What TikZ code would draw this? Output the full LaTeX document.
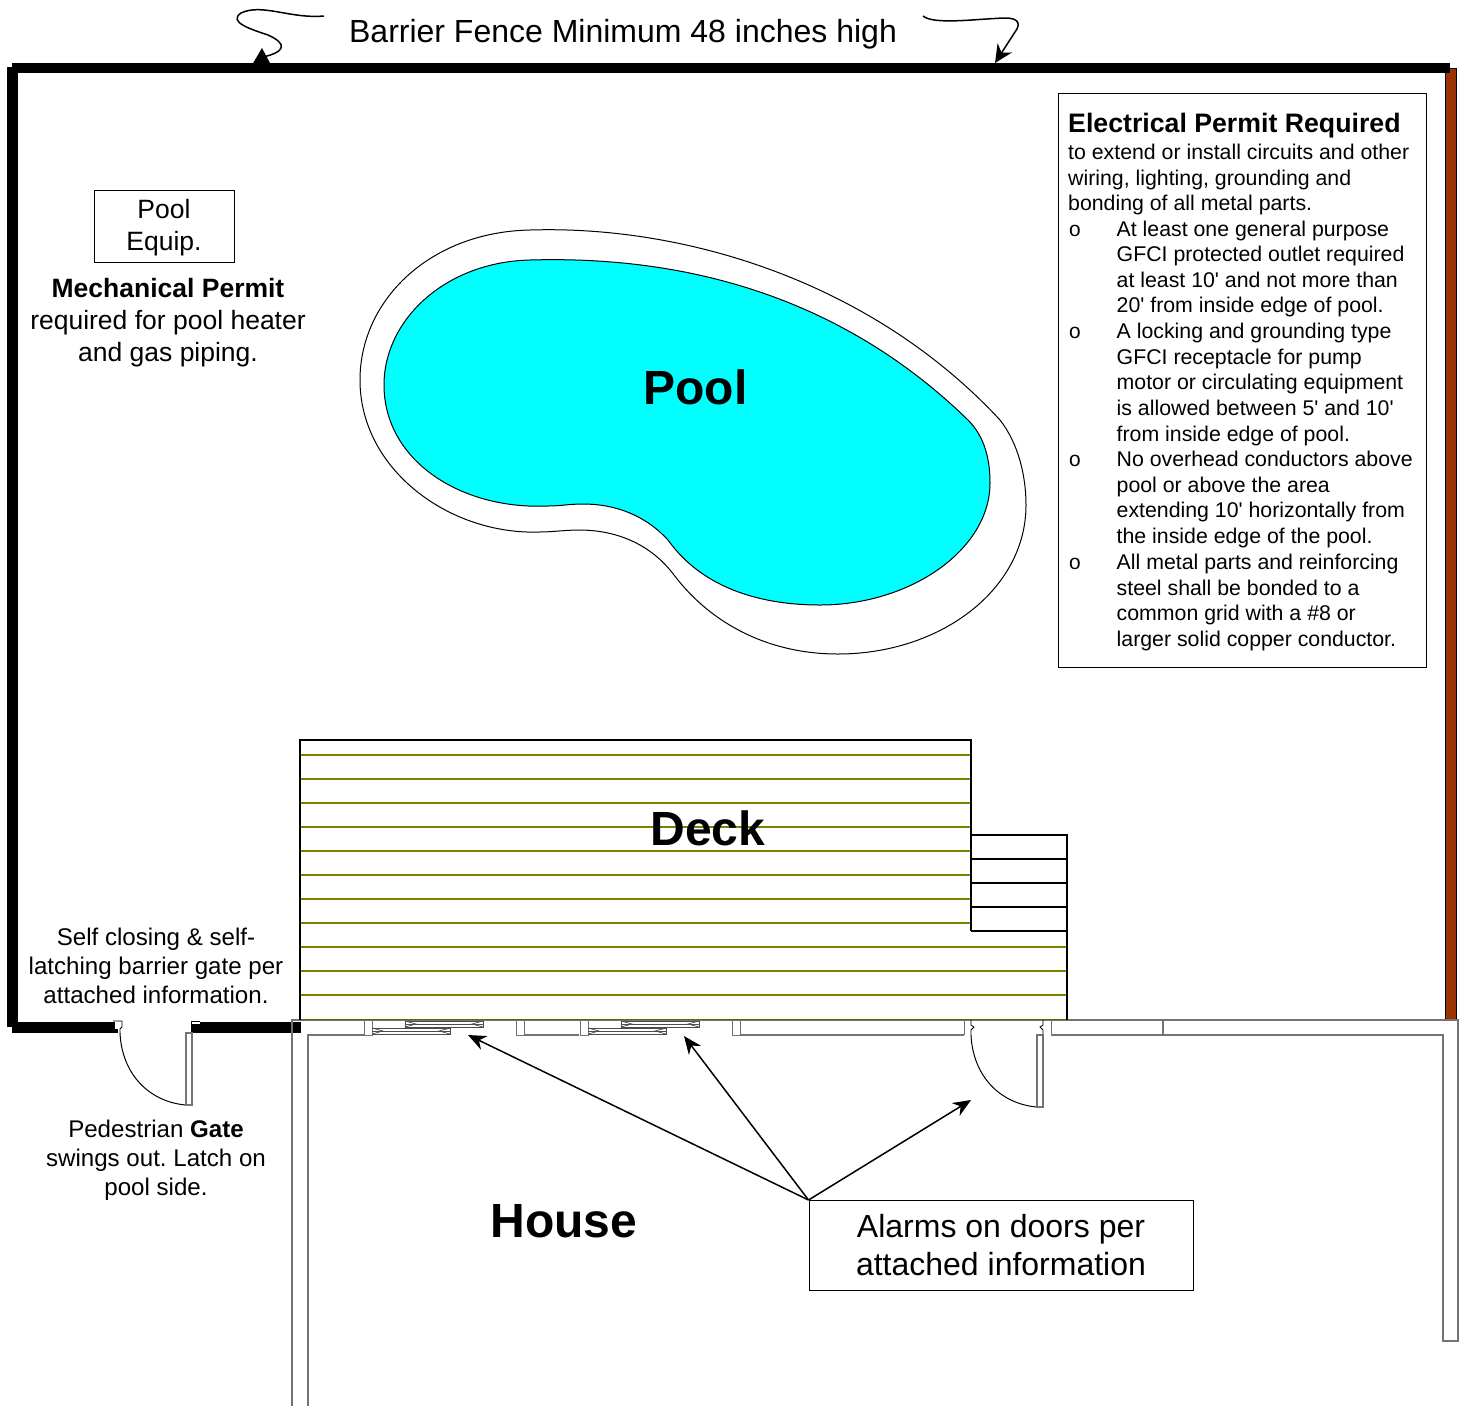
\documentclass[tikz,border=0pt]{standalone}
\usepackage{fontspec}
\setmainfont{Liberation Sans}
\newfontfamily\elecf{Liberation Sans}
\newfontfamily\monof{Liberation Mono}
\usetikzlibrary{arrows.meta}
\newcommand{\fsz}[2]{\fontsize{#1}{#2}\selectfont}
\frenchspacing
\tikzset{
 x=1pt,y=-1pt,
 wall/.style={draw=black!55,line width=1.3},
 fence/.style={fill=black,draw=none},
 note/.style={inner sep=0,align=center},
 bullettext/.style={inner sep=0,anchor=north west,align=left,font=\elecf\fsz{21.3}{25.6}},
 bulletmark/.style={inner sep=0,font=\monof\fsz{21}{22}},
 arrowline/.style={draw=black,line width=1.5,-{Stealth[length=18,width=15]}},
 framebox/.style={draw=black,line width=1,fill=none},
 big/.style={inner sep=0,font=\bfseries\fsz{48}{52}},
}
\definecolor{plankcol}{HTML}{808000}
\definecolor{brownbar}{HTML}{993300}
\definecolor{poolcol}{HTML}{00FFFF}
\begin{document}
\begin{tikzpicture}
\useasboundingbox (0,0) rectangle (1464,1406);
\fill[white] (0,0) rectangle (1464,1406);
% squiggles
\coordinate (sqA) at (324,16);
\coordinate (sqAend) at (263,57);
\draw[black,line width=1.5] (sqA) .. controls (290,19) and (262,3) .. (241,13) .. controls (228,22) and (250,29) .. (268,35) .. controls (288,44) and (285,52) .. (sqAend);
\fill[black] (252,65) -- (262,48) -- (271,65) -- cycle;
\coordinate (sqB) at (923,16);
\coordinate (sqBend) at (995,63);
\draw[arrowline,-{Stealth[length=18,width=17]}] (sqB) .. controls (934,25) and (975,19) .. (1005,18) .. controls (1019,18) and (1021,24) .. (1015,32) -- (sqBend);
% fence
\fill[brownbar] (1445,68) rectangle (1456,1020);
\draw[black,line width=1] (1445,68) -- (1445,1020) (1456,68) -- (1456,1020) (1445,68) -- (1456,68);
\fill[fence] (12,63) rectangle (1450,73);
\fill[fence] (7,67) rectangle (18,1027);
\fill[fence] (12,1022) rectangle (118,1033);
\fill[fence] (191,1022) rectangle (301,1033);
% house walls
\draw[wall] (292,1406) -- (292,1020) -- (1458,1020) -- (1458,1341) -- (1443,1341) -- (1443,1035) -- (1051,1035);
\draw[wall] (964,1035) -- (740,1035);
\draw[wall] (579,1035) -- (524,1035);
\draw[wall] (364,1035) -- (308,1035) -- (308,1406);
\draw[wall] (1163,1020) -- (1163,1035);
% gate
\fill[white] (115,1022) rectangle (122,1029);
\fill[white] (118,1029) rectangle (122,1033);
\fill[white] (191,1021) rectangle (200,1024);
\draw[black,line width=.8] (113,1021) -- (122,1021) -- (122,1027) -- (120,1029) -- (120,1033);
\draw[black,line width=.8] (200,1021) -- (191,1021) -- (191,1033);
\draw[black,line width=1] (120,1033) .. controls (122,1075) and (150,1102) .. (186,1105);
\draw[wall] (186,1033) rectangle (192,1105);
% sliding doors
\foreach \dx in {0,216}{
 \draw[wall,line width=1] (364+\dx,1020) rectangle (372+\dx,1035);
 \draw[black!70,line width=.9] (405+\dx,1021) -- (483+\dx,1021) -- (483+\dx,1027) -- (405+\dx,1027) -- cycle;
 \draw[black!70,line width=.9] (372+\dx,1028) -- (450+\dx,1028) -- (450+\dx,1034) -- (372+\dx,1034);
 \draw[black!70,line width=.7] (405+\dx,1024) -- (483+\dx,1024) (372+\dx,1031) -- (450+\dx,1031);
 \draw[black!70,line width=.7] (405+\dx,1021) -- (416+\dx,1024) -- (405+\dx,1027) (483+\dx,1021) -- (472+\dx,1024) -- (483+\dx,1027);
 \draw[black!70,line width=.7] (372+\dx,1028) -- (383+\dx,1031) -- (372+\dx,1034) (450+\dx,1028) -- (439+\dx,1031) -- (450+\dx,1034);
}
\draw[wall,line width=1] (516,1020) rectangle (524,1035);
\draw[wall,line width=1] (732,1020) rectangle (740,1035);
% back door
\draw[wall,line width=1] (964,1020) -- (964,1035);
\draw[wall,line width=1] (1051,1020) -- (1051,1035);
\draw[black,line width=.8] (971,1020) -- (971,1025) -- (974,1027) -- (971,1030) -- (971,1035);
\draw[black,line width=.8] (1043,1020) -- (1043,1025) -- (1040,1027) -- (1043,1030) -- (1043,1035);
\draw[black,line width=1] (971,1035) .. controls (973,1077) and (1001,1104) .. (1037,1107);
\draw[wall] (1037,1035) rectangle (1043,1107);
% deck
\foreach \yy in {755,779,...,923}{\draw[plankcol,line width=1.3] (300,\yy) -- (971,\yy);}
\foreach \yy in {947,971,995}{\draw[plankcol,line width=1.3] (300,\yy) -- (1067,\yy);}
\draw[plankcol!80!black,line width=1.3] (300,1019.5) -- (1067,1019.5);
\draw[framebox,line width=1.3] (300,1020) -- (300,740) -- (971,740) -- (971,931);
\draw[framebox,line width=1.3] (971,835) -- (1067,835) -- (1067,1020);
\draw[framebox,line width=1.3] (971,859) -- (1067,859) (971,883) -- (1067,883) (971,907) -- (1067,907) (971,931) -- (1067,931);
% pool
\draw[black,line width=1] (530,230) .. controls (690,225) and (875,285) .. (1000,420)
 .. controls (1018,443) and (1026,475) .. (1026,505)
 .. controls (1026,590) and (940,654) .. (838,654)
 .. controls (770,654) and (712,625) .. (674,575)
 .. controls (650,543) and (615,530) .. (579,530)
 .. controls (565,530) and (553,532) .. (539,532)
 .. controls (450,535) and (360,470) .. (360,380)
 .. controls (360,300) and (430,232) .. (530,230) -- cycle;
\draw[black,line width=1,fill=poolcol] (530,260) .. controls (700,255) and (850,305) .. (968,420)
 .. controls (985,437) and (990,460) .. (990,483)
 .. controls (990,550) and (910,605) .. (820,605)
 .. controls (755,605) and (700,585) .. (668,540)
 .. controls (645,515) and (615,504) .. (583,504)
 .. controls (570,504) and (560,506) .. (548,506)
 .. controls (460,510) and (384,460) .. (384,385)
 .. controls (384,320) and (445,262) .. (530,260) -- cycle;
% labels
\node[note,font=\fsz{32}{36}] (fenceT) at (623,34) {Barrier Fence Minimum 48 inches high};
\node[big] (poolT) at (695.5,387) {Pool};
\node[big] (deckT) at (708,828) {Deck};
\node[big] (houseT) at (564,1221) {House};
\node[draw=black,line width=1,minimum width=140,minimum height=72,inner sep=0] (equip) at (164,226) {};
\node[note,font=\fsz{26.5}{32}] (equipT) at (164,228) {Pool\\Equip.};
\node[note,font=\fsz{26.5}{32}] (mech) at (168,323) {\textbf{Mechanical Permit}\\required for pool heater\\and gas piping.};
\node[note,font=\fsz{24.1}{29}] (selfT) at (156,966) {Self closing \& self-\\latching barrier gate per\\attached information.};
\node[note,font=\fsz{24.1}{29}] (gateT) at (156,1160) {Pedestrian \textbf{Gate}\\swings out. Latch on\\pool side.};
\node[draw=black,line width=1,minimum width=384,minimum height=90,inner sep=0] (alarm) at (1001,1245.5) {};
\node[note,font=\fsz{32}{38}] (alarmT) at (1001,1245) {Alarms on doors per\\attached information};
\coordinate (tgA) at (468,1035);
\coordinate (tgB) at (684,1036);
\coordinate (tgC) at (971,1100);
\draw[arrowline] (alarm.north west) -- (tgA);
\draw[arrowline] (alarm.north west) -- (tgB);
\draw[arrowline] (alarm.north west) -- (tgC);
% electrical box
\node[draw=black,line width=1,minimum width=368.5,minimum height=574,inner sep=0,anchor=north west] (elec) at (1057.5,93) {};
\node[inner sep=0,anchor=base west,font=\bfseries\fsz{26.7}{30}] (elecT) at (1068,132) {Electrical Permit Required};
\node[bullettext] (elecI) at (1068,144) {to extend or install circuits and other\\wiring, lighting, grounding and\\bonding of all metal parts.};
\node[bullettext] (b1) at (1116.5,220.5) {At least one general purpose\\GFCI protected outlet required\\at least 10' and not more than\\20' from inside edge of pool.};
\node[bullettext] (b2) at (1116.5,323) {A locking and grounding type\\GFCI receptacle for pump\\motor or circulating equipment\\is allowed between 5' and 10'\\from inside edge of pool.};
\node[bullettext] (b3) at (1116.5,451) {No overhead conductors above\\pool or above the area\\extending 10' horizontally from\\the inside edge of the pool.};
\node[bullettext] (b4) at (1116.5,554) {All metal parts and reinforcing\\steel shall be bonded to a\\common grid with a \#8 or\\larger solid copper conductor.};
\node[bulletmark] (m1) at (1075,231) {o};
\node[bulletmark] (m2) at (1075,333) {o};
\node[bulletmark] (m3) at (1075,461) {o};
\node[bulletmark] (m4) at (1075,564) {o};
\end{tikzpicture}
\end{document}
